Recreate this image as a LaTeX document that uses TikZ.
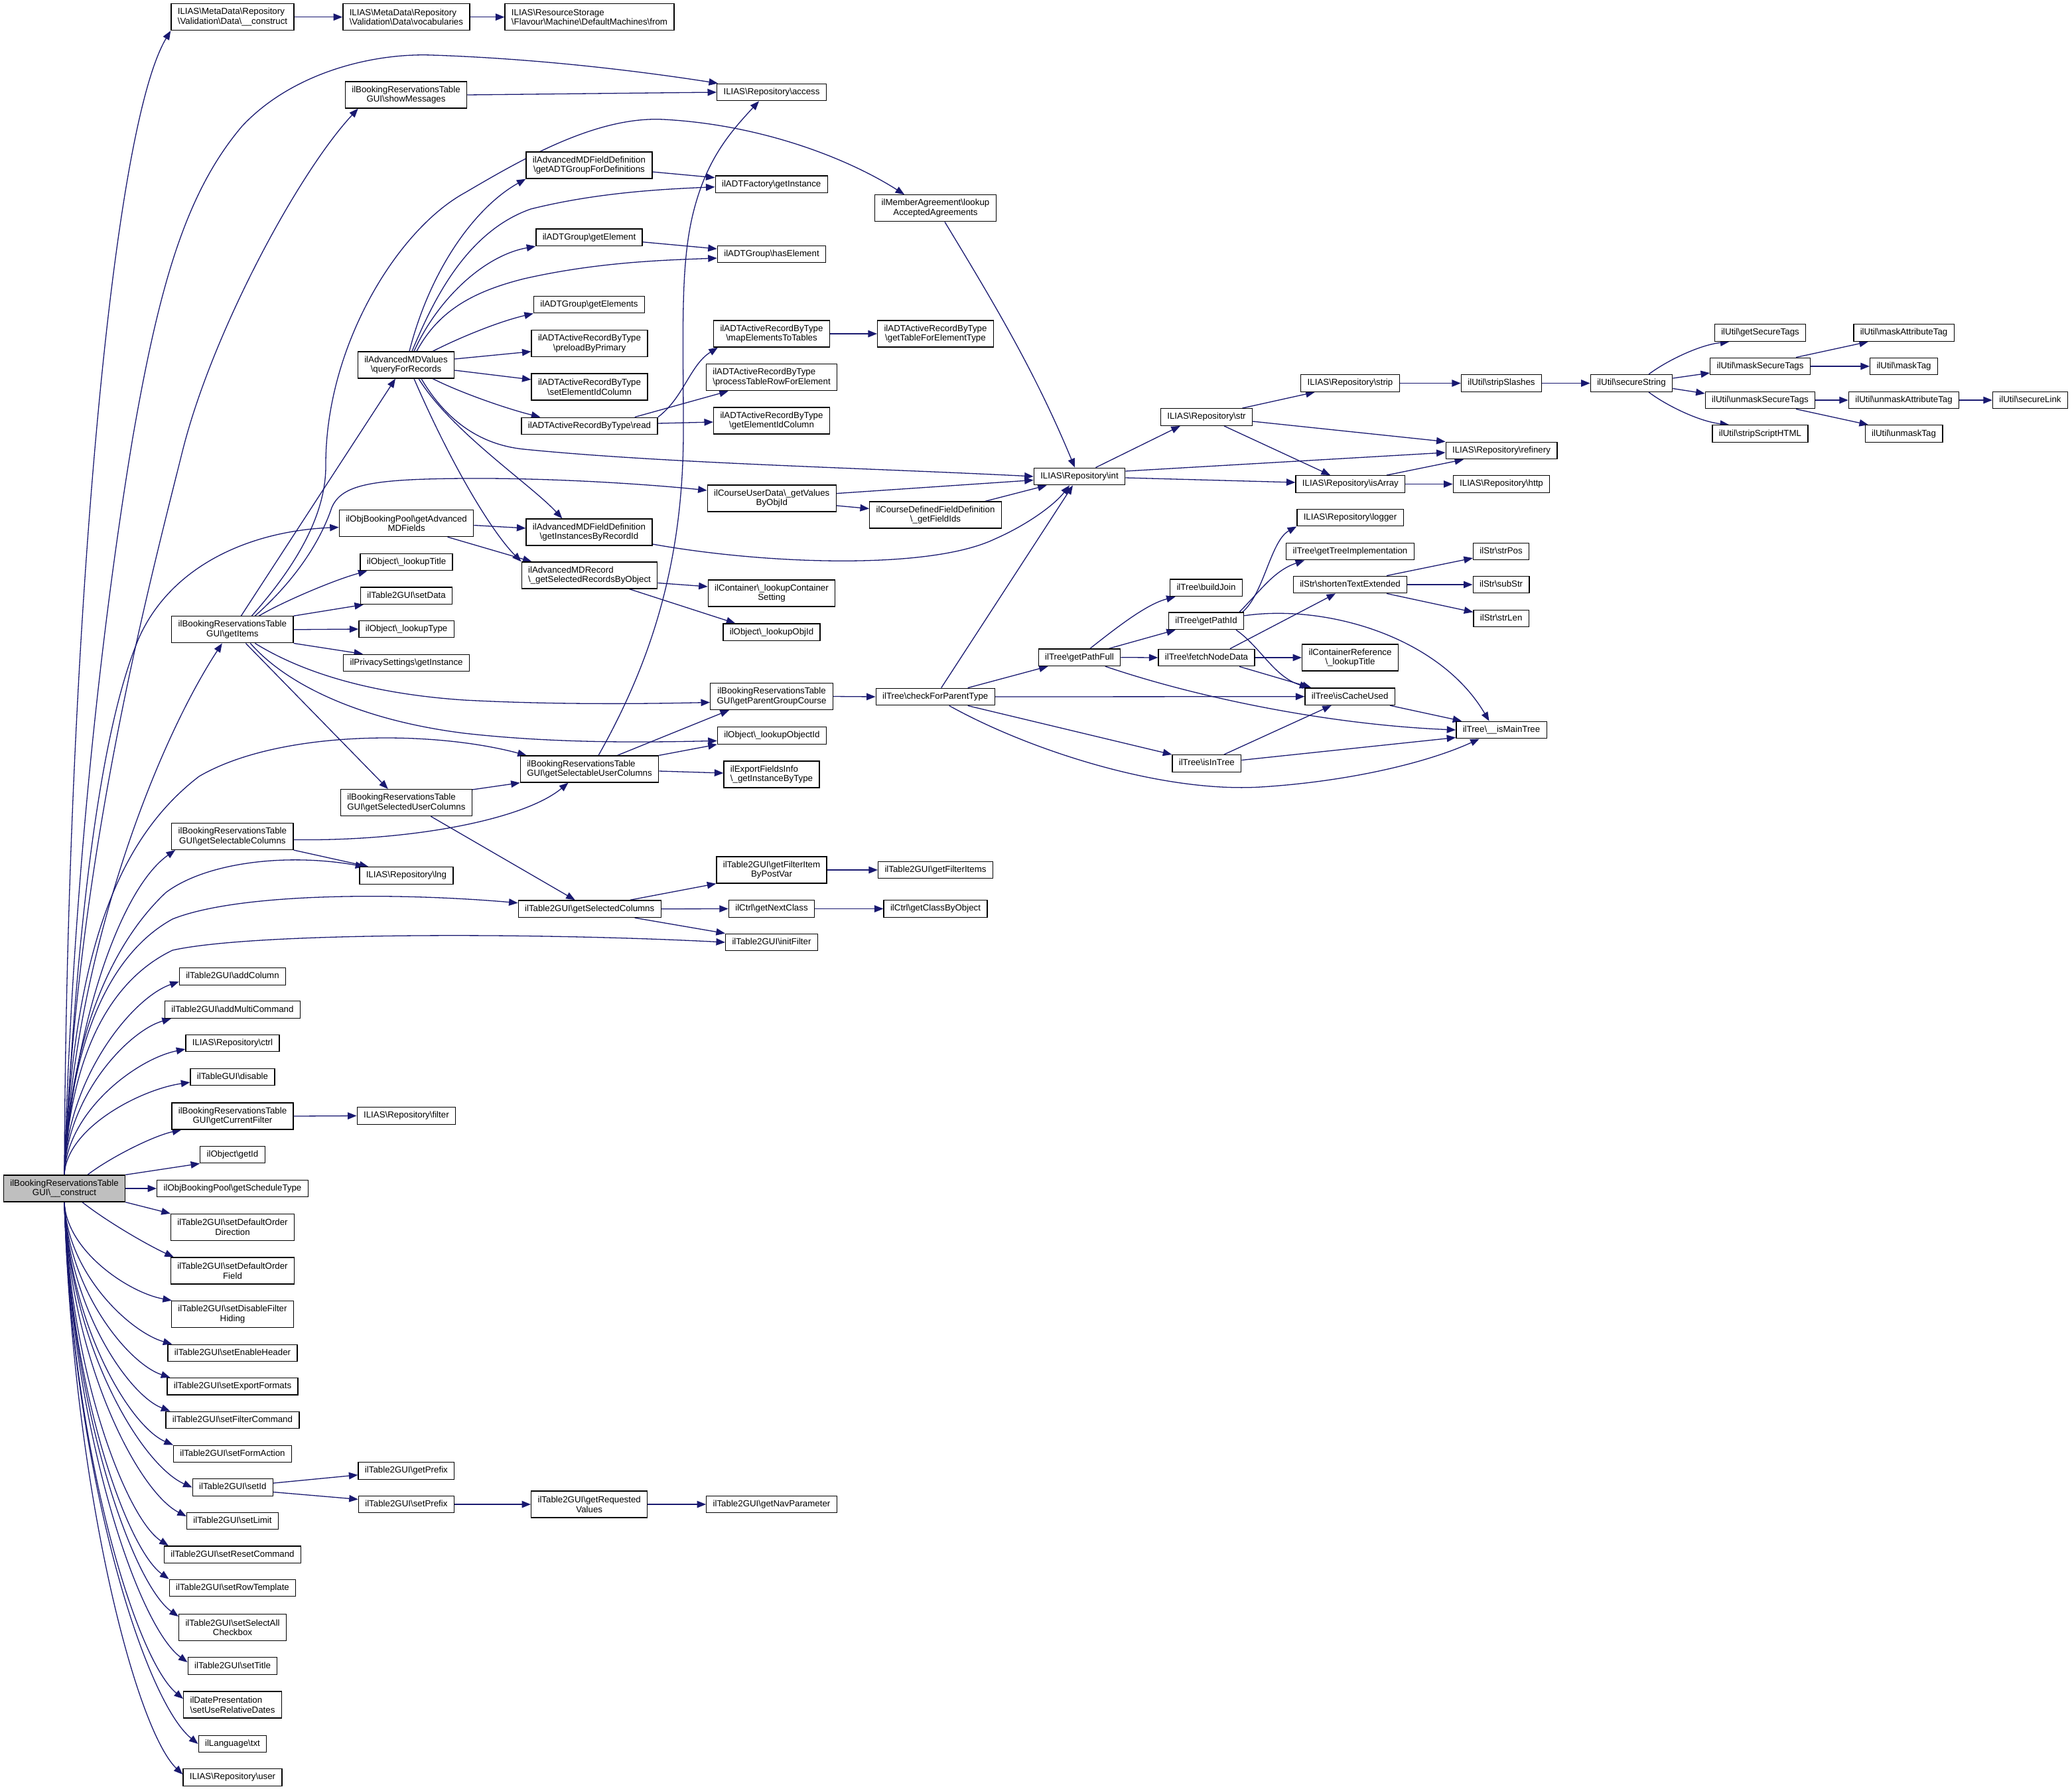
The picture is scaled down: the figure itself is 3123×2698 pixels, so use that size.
\documentclass[tikz,border=0pt]{standalone}
\usepackage{fontspec}
\setmainfont{Liberation Sans}
\usetikzlibrary{arrows.meta,calc,backgrounds}
\definecolor{edgeblue}{HTML}{191970}
\definecolor{rootgray}{HTML}{BFBFBF}
\newcommand\dxfont{\fontsize{13.3}{14.7}\selectfont}
\def\bs{\textbackslash}
\tikzset{
 fnbase/.style={draw=black, line width=1.3pt, fill=white, inner xsep=9.9pt, inner ysep=0pt, font=\dxfont, anchor=center},
 fn/.style={fnbase, minimum height=25.6pt, text height=9.6pt, text depth=2.8pt},
 fn2/.style={fnbase, minimum height=40pt, align=center},
 fn2l/.style={fnbase, minimum height=40pt, align=left},
 rootnode/.style={fn2, fill=rootgray},
 conn/.style={draw=edgeblue, line width=1.3pt, -{Triangle[length=13.5pt,width=10.5pt]}},
}
\begin{document}
\begin{tikzpicture}[x=1pt,y=-1pt]
\useasboundingbox (0,0) rectangle (3123,2698);
% ---------------- nodes ----------------
\node[rootnode] (root) at (97,1791) {ilBookingReservationsTable\\GUI\bs\_\_construct};
% column 1
\node[fn2l] (md) at (350.5,25.7) {ILIAS\bs MetaData\bs Repository\\\bs Validation\bs Data\bs\_\_construct};
\node[fn2] (getItems) at (350.4,948.8) {ilBookingReservationsTable\\GUI\bs getItems};
\node[fn2] (gsc1) at (350.4,1260.4) {ilBookingReservationsTable\\GUI\bs getSelectableColumns};
\node[fn] (addColumn) at (350.5,1471.4) {ilTable2GUI\bs addColumn};
\node[fn] (addMultiCommand) at (350.5,1521.6) {ilTable2GUI\bs addMultiCommand};
\node[fn] (ctrl) at (350.5,1572) {ILIAS\bs Repository\bs ctrl};
\node[fn] (disable) at (350.5,1623) {ilTableGUI\bs disable};
\node[fn2] (gcf) at (350.5,1682) {ilBookingReservationsTable\\GUI\bs getCurrentFilter};
\node[fn] (getId) at (350.5,1740) {ilObject\bs getId};
\node[fn] (gstype) at (350.5,1791) {ilObjBookingPool\bs getScheduleType};
\node[fn2] (sdod) at (350.5,1849.4) {ilTable2GUI\bs setDefaultOrder\\Direction};
\node[fn2] (sdof) at (350.5,1915) {ilTable2GUI\bs setDefaultOrder\\Field};
\node[fn2] (sdfh) at (350.5,1980.4) {ilTable2GUI\bs setDisableFilter\\Hiding};
\node[fn] (seh) at (350.5,2039) {ilTable2GUI\bs setEnableHeader};
\node[fn] (sef) at (350.5,2089.2) {ilTable2GUI\bs setExportFormats};
\node[fn] (sfc) at (350.5,2140) {ilTable2GUI\bs setFilterCommand};
\node[fn] (sfa) at (350.5,2191) {ilTable2GUI\bs setFormAction};
\node[fn] (sid) at (350.8,2241.5) {ilTable2GUI\bs setId};
\node[fn] (slim) at (350.5,2292) {ilTable2GUI\bs setLimit};
\node[fn] (src) at (350.5,2342.7) {ilTable2GUI\bs setResetCommand};
\node[fn] (srt) at (350.5,2393) {ilTable2GUI\bs setRowTemplate};
\node[fn2] (ssac) at (350.5,2452.7) {ilTable2GUI\bs setSelectAll\\Checkbox};
\node[fn] (stitle) at (350.5,2510.6) {ilTable2GUI\bs setTitle};
\node[fn2l] (surd) at (350.5,2569) {ilDatePresentation\\\bs setUseRelativeDates};
\node[fn] (txt) at (350.5,2628) {ilLanguage\bs txt};
\node[fn] (user) at (350.5,2678.5) {ILIAS\bs Repository\bs user};
% column 2
\node[fn2l] (vocab) at (612.4,25.7) {ILIAS\bs MetaData\bs Repository\\\bs Validation\bs Data\bs vocabularies};
\node[fn2] (showMessages) at (612,143) {ilBookingReservationsTable\\GUI\bs showMessages};
\node[fn2] (qfr) at (612,550) {ilAdvancedMDValues\\\bs queryForRecords};
\node[fn2] (gamf) at (612.6,788.6) {ilObjBookingPool\bs getAdvanced\\MDFields};
\node[fn] (lt) at (612.6,847) {ilObject\bs\_lookupTitle};
\node[fn] (sd) at (612.6,897.7) {ilTable2GUI\bs setData};
\node[fn] (ltype) at (612.6,948) {ilObject\bs\_lookupType};
\node[fn] (pv) at (612.6,999) {ilPrivacySettings\bs getInstance};
\node[fn2l] (gsduc) at (612.4,1209.6) {ilBookingReservationsTable\\GUI\bs getSelectedUserColumns};
\node[fn] (lng) at (612.4,1319.4) {ILIAS\bs Repository\bs lng};
\node[fn] (filter) at (612.4,1681.5) {ILIAS\bs Repository\bs filter};
\node[fn] (gprefix) at (612.4,2216.4) {ilTable2GUI\bs getPrefix};
\node[fn] (sprefix) at (612.4,2267) {ilTable2GUI\bs setPrefix};
% column 3
\node[fn2l] (from) at (888.5,25.7) {ILIAS\bs ResourceStorage\\\bs Flavour\bs Machine\bs DefaultMachines\bs from};
\node[fn2] (gadt) at (888,249) {ilAdvancedMDFieldDefinition\\\bs getADTGroupForDefinitions};
\node[fn] (gel) at (888,357.7) {ilADTGroup\bs getElement};
\node[fn] (gels) at (888,459) {ilADTGroup\bs getElements};
\node[fn2] (pbp) at (888.5,517.8) {ilADTActiveRecordByType\\\bs preloadByPrimary};
\node[fn2] (seic) at (888.5,583) {ilADTActiveRecordByType\\\bs setElementIdColumn};
\node[fn] (read) at (888.5,642) {ilADTActiveRecordByType\bs read};
\node[fn2] (gir) at (888,802) {ilAdvancedMDFieldDefinition\\\bs getInstancesByRecordId};
\node[fn2l] (gsrbo) at (888.5,867) {ilAdvancedMDRecord\\\bs\_getSelectedRecordsByObject};
\node[fn2l] (gsuc) at (888.5,1159) {ilBookingReservationsTable\\GUI\bs getSelectableUserColumns};
\node[fn] (gsc) at (888.7,1369.7) {ilTable2GUI\bs getSelectedColumns};
\node[fn2] (grv) at (888.2,2267) {ilTable2GUI\bs getRequested\\Values};
% column 4
\node[fn] (access) at (1163,139) {ILIAS\bs Repository\bs access};
\node[fn] (adtf) at (1162.7,277.7) {ilADTFactory\bs getInstance};
\node[fn] (hel) at (1163,383) {ilADTGroup\bs hasElement};
\node[fn2] (mett) at (1163,503) {ilADTActiveRecordByType\\\bs mapElementsToTables};
\node[fn2l] (ptrfe) at (1163,568.7) {ilADTActiveRecordByType\\\bs processTableRowForElement};
\node[fn2] (geic) at (1163,634) {ilADTActiveRecordByType\\\bs getElementIdColumn};
\node[fn2] (gv) at (1163.3,751) {ilCourseUserData\bs\_getValues\\ByObjId};
\node[fn2] (lcs) at (1163,894) {ilContainer\bs\_lookupContainer\\Setting};
\node[fn] (loi) at (1163,952.7) {ilObject\bs\_lookupObjId};
\node[fn2] (gpgc) at (1163,1049.5) {ilBookingReservationsTable\\GUI\bs getParentGroupCourse};
\node[fn] (loid) at (1163.4,1108.4) {ilObject\bs\_lookupObjectId};
\node[fn2l] (ef) at (1163,1167) {ilExportFieldsInfo\\\bs\_getInstanceByType};
\node[fn2] (gfibp) at (1163,1311) {ilTable2GUI\bs getFilterItem\\ByPostVar};
\node[fn] (gnc) at (1163,1369.5) {ilCtrl\bs getNextClass};
\node[fn] (ifilter) at (1163,1420) {ilTable2GUI\bs initFilter};
\node[fn] (gnp) at (1163,2267) {ilTable2GUI\bs getNavParameter};
% column 5
\node[fn2] (la) at (1410,313.8) {ilMemberAgreement\bs lookup\\AcceptedAgreements};
\node[fn2] (gtfet) at (1410,503) {ilADTActiveRecordByType\\\bs getTableForElementType};
\node[fn2] (gfi) at (1410,776) {ilCourseDefinedFieldDefinition\\\bs\_getFieldIds};
\node[fn] (cfp) at (1409.7,1050) {ilTree\bs checkForParentType};
\node[fn] (gfis) at (1410,1311) {ilTable2GUI\bs getFilterItems};
\node[fn] (gcbo) at (1410,1369.5) {ilCtrl\bs getClassByObject};
% column 6
\node[fn] (int) at (1627,718) {ILIAS\bs Repository\bs int};
\node[fn] (gpf) at (1627,990.7) {ilTree\bs getPathFull};
% column 7
\node[fn] (str) at (1818.5,628.5) {ILIAS\bs Repository\bs str};
\node[fn] (bj) at (1818,885.8) {ilTree\bs buildJoin};
\node[fn] (gpi) at (1818,935.8) {ilTree\bs getPathId};
\node[fn] (fnd) at (1818.5,991) {ilTree\bs fetchNodeData};
\node[fn] (iit) at (1818.8,1150.5) {ilTree\bs isInTree};
% column 8
\node[fn] (strip) at (2035,577.5) {ILIAS\bs Repository\bs strip};
\node[fn] (ia) at (2035.4,729.5) {ILIAS\bs Repository\bs isArray};
\node[fn] (lg) at (2035,780) {ILIAS\bs Repository\bs logger};
\node[fn] (gti) at (2035,831) {ilTree\bs getTreeImplementation};
\node[fn] (ste) at (2035,881) {ilStr\bs shortenTextExtended};
\node[fn2] (crt) at (2035,991) {ilContainerReference\\\bs\_lookupTitle};
\node[fn] (icu) at (2034.7,1049.7) {ilTree\bs isCacheUsed};
% column 9
\node[fn] (sls) at (2263,577.5) {ilUtil\bs stripSlashes};
\node[fn] (ref) at (2263,679) {ILIAS\bs Repository\bs refinery};
\node[fn] (http) at (2263,729.5) {ILIAS\bs Repository\bs http};
\node[fn] (sp) at (2262.6,831) {ilStr\bs strPos};
\node[fn] (ssub) at (2262.6,881) {ilStr\bs subStr};
\node[fn] (sl) at (2262.6,932) {ilStr\bs strLen};
\node[fn] (imt) at (2263,1100) {ilTree\bs\_\_isMainTree};
% columns 10-13
\node[fn] (ss) at (2459,577.5) {ilUtil\bs secureString};
\node[fn] (gst) at (2653,501.5) {ilUtil\bs getSecureTags};
\node[fn] (mst) at (2653,552) {ilUtil\bs maskSecureTags};
\node[fn] (ust) at (2653,603) {ilUtil\bs unmaskSecureTags};
\node[fn] (ssh) at (2653,653.6) {ilUtil\bs stripScriptHTML};
\node[fn] (mat) at (2869.5,501.5) {ilUtil\bs maskAttributeTag};
\node[fn] (mtag) at (2869.5,552) {ilUtil\bs maskTag};
\node[fn] (uat) at (2869.5,603) {ilUtil\bs unmaskAttributeTag};
\node[fn] (umt) at (2869.5,653.6) {ilUtil\bs unmaskTag};
\node[fn] (sln) at (3060,603) {ilUtil\bs secureLink};
% ---------------- connectors ----------------
\begin{pgfonlayer}{background}
\fill[white] (0,0) rectangle (3123,2698);
% top row
\draw[conn] (md.east) -- (vocab.west);
\draw[conn] (vocab.east) -- (from.west);
\draw[conn] (showMessages.east) -- (access.west);
% root fan, upwards
\draw[conn] (root.north) .. controls (100,1000) and (165,200) .. (md.south west);
\draw[conn] (root.north) .. controls (115,1300) and (220,900) .. (275,680) .. controls (320,500) and (450,260) .. ($(showMessages.south west)+(20,0)$);
\draw[conn] (root.north) .. controls (110,1300) and (160,900) .. (200,660) .. controls (240,430) and (280,290) .. (365,190) .. controls (440,110) and (560,80) .. (650,83) .. controls (800,88) and (950,105) .. ($(access.north west)+(2,0)$);
\draw[conn] (root.north) .. controls (115,1400) and (150,1100) .. (210,960) .. controls (260,850) and (380,800) .. ($(gamf.west)+(0,6)$);
\draw[conn] (root.north) .. controls (110,1450) and (230,1130) .. ($(getItems.south)+(-15.6,0)$);
\draw[conn] (root.north) .. controls (110,1450) and (170,1270) .. (300,1170) .. controls (420,1100) and (650,1100) .. ($(gsuc.north west)+(10,0)$);
\draw[conn] (root.north) .. controls (110,1550) and (180,1340) .. ($(gsc1.south west)+(6,0)$);
\draw[conn] (root.north) .. controls (105,1560) and (170,1420) .. (250,1345) .. controls (310,1300) and (430,1285) .. ($(lng.north west)+(8,0)$);
\draw[conn] (root.north) .. controls (105,1580) and (160,1440) .. (260,1385) .. controls (360,1345) and (600,1345) .. ($(gsc.west)+(0,-9)$);
\draw[conn] (root.north) .. controls (105,1600) and (160,1480) .. (260,1432) .. controls (380,1405) and (800,1405) .. (ifilter.west);
\draw[conn] (root.north) .. controls (100,1625) and (200,1503) .. ($(addColumn.west)+(0,8)$);
\draw[conn] (root.north) .. controls (100,1652) and (194,1553) .. ($(addMultiCommand.south west)+(10,0)$);
\draw[conn] (root.north) .. controls (100,1676) and (205,1596) .. ($(ctrl.west)+(0,9)$);
\draw[conn] (root.north) .. controls (100,1700) and (211,1642) .. ($(disable.west)+(0,8)$);
\draw[conn] ($(root.north)+(35,0)$) .. controls (165,1745) and (230,1712) .. ($(gcf.south west)+(15,0)$);
\draw[conn] (root.north east) -- (getId.south west);
\draw[conn] (root.east) -- (gstype.west);
% root fan, downwards
\draw[conn] (root.south east) -- (sdod.north west);
\draw[conn] ($(root.south)+(27,0)$) .. controls (160,1840) and (220,1875) .. ($(sdof.north west)+(5,0)$);
\draw[conn] (root.south) .. controls (100,1885) and (194,1948) .. ($(sdfh.north west)+(1,0)$);
\draw[conn] (root.south) .. controls (101,1918) and (195,2007) .. ($(seh.north west)+(7,0)$);
\draw[conn] (root.south) .. controls (102,1943) and (193,2055) .. ($(sef.north west)+(5,0)$);
\draw[conn] (root.south) .. controls (103,1969) and (193,2102) .. ($(sfc.north west)+(7,0)$);
\draw[conn] (root.south) .. controls (104,1995) and (195,2149) .. (sfa.north west);
\draw[conn] (root.south) .. controls (105,2026) and (212,2207) .. (sid.west);
\draw[conn] (root.south) .. controls (105,2048) and (207,2247) .. ($(slim.west)+(0,-7)$);
\draw[conn] (root.south) .. controls (106,2071) and (191,2289) .. ($(src.north west)+(7,0)$);
\draw[conn] (root.south) .. controls (106,2095) and (191,2334) .. (srt.north west);
\draw[conn] (root.south) .. controls (107,2124) and (200,2387) .. ($(ssac.north west)+(0,4)$);
\draw[conn] (root.south) .. controls (108,2158) and (208,2450) .. ($(stitle.west)+(0,-5.6)$);
\draw[conn] (root.south) .. controls (108,2185) and (204,2500) .. ($(surd.west)+(0,-9)$);
\draw[conn] (root.south) .. controls (109,2220) and (218,2563) .. (txt.west);
\draw[conn] (root.south) .. controls (110,2242) and (204,2605) .. ($(user.west)+(0,-4.5)$);
% getItems
\draw[conn] ($(getItems.north)+(13,0)$) -- ($(qfr.south)+(-16,0)$);
\draw[conn] ($(getItems.north)+(29,0)$) .. controls (440,860) and (492,780) .. (491,700) .. controls (491,520) and (600,345) .. (701.5,290) .. controls (790,238) and (900,175) .. (1000,180) .. controls (1150,188) and (1280,240) .. ($(la.north west)+(45,0)$);
\draw[conn] ($(getItems.north)+(34,0)$) .. controls (450,870) and (485,810) .. (500,765) .. controls (515,730) and (560,722) .. (700,721) .. controls (850,720) and (1000,732) .. ($(gv.west)+(0,-12)$);
\draw[conn] ($(getItems.north)+(40,0)$) .. controls (420,910) and (500,875) .. ($(lt.south west)+(11,0)$);
\draw[conn] (getItems.north east) -- ($(sd.south west)+(5,0)$);
\draw[conn] (getItems.east) -- (ltype.west);
\draw[conn] (getItems.south east) -- ($(pv.north west)+(30,0)$);
\draw[conn] ($(getItems.south)+(20,0)$) -- ($(gsduc.north)+(-27.6,0)$);
\draw[conn] ($(getItems.south)+(34,0)$) .. controls (450,1010) and (550,1045) .. (700,1055) .. controls (850,1063) and (1000,1060) .. ($(gpgc.west)+(0,9)$);
\draw[conn] ($(getItems.south)+(27,0)$) .. controls (430,1030) and (540,1085) .. (700,1105) .. controls (850,1122) and (1000,1118) .. ($(loid.west)+(0,8)$);
% queryForRecords
\draw[conn] ($(qfr.north)+(5,0)$) .. controls (650,400) and (720,310) .. (gadt.south west);
\draw[conn] ($(qfr.north)+(9,0)$) .. controls (650,460) and (700,350) .. (800,315) .. controls (900,290) and (1000,285) .. ($(adtf.west)+(0,4)$);
\draw[conn] ($(qfr.north)+(12,0)$) .. controls (660,450) and (730,385) .. (gel.south west);
\draw[conn] ($(qfr.north)+(16,0)$) .. controls (660,470) and (710,440) .. (790,420) .. controls (900,395) and (1000,392) .. ($(hel.west)+(0,6)$);
\draw[conn] ($(qfr.north east)+(-33,0)$) .. controls (690,510) and (750,485) .. (gels.south west);
\draw[conn] ($(qfr.east)+(0,-9)$) -- ($(pbp.west)+(0,12)$);
\draw[conn] ($(qfr.east)+(0,8)$) -- ($(seic.west)+(0,-11)$);
\draw[conn] ($(qfr.south east)+(-33,0)$) .. controls (690,590) and (760,615) .. ($(read.north west)+(29,0)$);
\draw[conn] ($(qfr.south)+(23,0)$) .. controls (670,630) and (720,670) .. (790,677) .. controls (1000,698) and (1300,705) .. (int.west);
\draw[conn] ($(qfr.south)+(19,0)$) .. controls (680,650) and (800,730) .. ($(gir.north)+(-40.6,0)$);
\draw[conn] ($(qfr.south)+(12,0)$) .. controls (680,700) and (740,800) .. (gsrbo.north west);
% getAdvancedMDFields
\draw[conn] ($(gamf.east)+(0,3)$) -- ($(gir.west)+(0,-6)$);
\draw[conn] ($(gamf.south)+(62,0)$) -- ($(gsrbo.north west)+(16,0)$);
% ADT group
\draw[conn] ($(gadt.east)+(0,10)$) -- ($(adtf.west)+(0,-10)$);
\draw[conn] ($(gel.east)+(0,7)$) -- ($(hel.west)+(0,-8)$);
\draw[conn] (read.north east) .. controls (1030,600) and (1040,550) .. ($(mett.south west)+(7,0)$);
\draw[conn] ($(read.north east)+(-35,0)$) -- ($(ptrfe.south west)+(34,0)$);
\draw[conn] ($(read.east)+(0,-4)$) -- ($(geic.west)+(0,2)$);
\draw[conn] (mett.east) -- (gtfet.west);
% to int
\draw[conn] ($(la.south)+(14,0)$) .. controls (1500,460) and (1560,560) .. ($(int.north)+(-7,0)$);
\draw[conn] ($(gv.east)+(0,-7.4)$) -- ($(int.west)+(0,5.5)$);
\draw[conn] ($(gv.east)+(0,11)$) -- ($(gfi.west)+(0,-9.5)$);
\draw[conn] ($(gfi.north)+(75,0)$) -- ($(int.south west)+(20,0)$);
\draw[conn] ($(gir.east)+(0,18)$) .. controls (1150,850) and (1400,860) .. (1500,812) .. controls (1550,790) and (1590,760) .. ($(int.south)+(-15,0)$);
% selected records
\draw[conn] ($(gsrbo.east)+(0,11.5)$) -- ($(lcs.west)+(0,-10)$);
\draw[conn] ($(gsrbo.south)+(60,0)$) -- ($(loi.north west)+(19,0)$);
% selectable user columns
\draw[conn] ($(gsuc.north)+(13.5,0)$) .. controls (980,1000) and (1030,850) .. (1030,650) .. controls (1030,500) and (1025,400) .. (1045,320) .. controls (1065,240) and (1100,200) .. ($(access.south)+(-19,0)$);
\draw[conn] ($(gsuc.north)+(42,0)$) -- ($(gpgc.south west)+(29,0)$);
\draw[conn] (gsuc.north east) -- (loid.south west);
\draw[conn] ($(gsuc.east)+(0,3)$) -- ($(ef.west)+(0,-2)$);
\draw[conn] ($(gsduc.north east)+(0,1)$) -- (gsuc.south west);
\draw[conn] ($(gsduc.south)+(37,0)$) -- ($(gsc.north)+(-22,0)$);
\draw[conn] ($(gsc1.east)+(0,5)$) .. controls (620,1268) and (790,1235) .. ($(gsuc.south)+(-32,0)$);
\draw[conn] (gsc1.south east) -- ($(lng.north west)+(14,0)$);
% selected columns
\draw[conn] ($(gsc.north)+(61,0)$) -- (gfibp.south west);
\draw[conn] (gsc.east) -- (gnc.west);
\draw[conn] ($(gsc.south)+(68,0)$) -- (ifilter.north west);
\draw[conn] (gfibp.east) -- (gfis.west);
\draw[conn] (gnc.east) -- (gcbo.west);
% lower left
\draw[conn] (gcf.east) -- (filter.west);
\draw[conn] ($(sid.east)+(0,-6.5)$) -- ($(gprefix.west)+(0,6.3)$);
\draw[conn] ($(sid.east)+(0,7)$) -- ($(sprefix.west)+(0,-7.6)$);
\draw[conn] (sprefix.east) -- (grv.west);
\draw[conn] (grv.east) -- (gnp.west);
% checkForParentType
\draw[conn] (gpgc.east) -- (cfp.west);
\draw[conn] ($(cfp.north)+(9,0)$) -- ($(int.south)+(-10,0)$);
\draw[conn] ($(cfp.north)+(49,0)$) -- ($(gpf.south west)+(15,0)$);
\draw[conn] (cfp.east) -- (icu.west);
\draw[conn] ($(cfp.south)+(49,0)$) -- (iit.north west);
\draw[conn] ($(cfp.south)+(21,0)$) .. controls (1550,1130) and (1750,1195) .. (1900,1186) .. controls (2030,1178) and (2150,1150) .. ($(imt.south west)+(35.5,0)$);
% getPathFull
\draw[conn] ($(gpf.north)+(16,0)$) .. controls (1690,940) and (1730,910) .. ($(bj.south west)+(8.6,0)$);
\draw[conn] ($(gpf.north)+(44.6,0)$) -- ($(gpi.south west)+(11,0)$);
\draw[conn] (gpf.east) -- (fnd.west);
\draw[conn] ($(gpf.south)+(38.8,0)$) .. controls (1800,1050) and (2000,1092) .. (imt.west);
% getPathId
\draw[conn] ($(gpi.north east)+(-2.6,0)$) .. controls (1905,895) and (1915,815) .. (lg.south west);
\draw[conn] ($(gpi.north)+(50,0)$) .. controls (1900,890) and (1920,860) .. ($(gti.south west)+(28,0)$);
\draw[conn] ($(gpi.east)+(0,-8)$) .. controls (2000,910) and (2170,960) .. ($(imt.north)+(-18.5,0)$);
\draw[conn] ($(gpi.south)+(45,0)$) .. controls (1900,975) and (1920,1020) .. ($(icu.north west)+(6,0)$);
% fetchNodeData
\draw[conn] (fnd.east) -- (crt.west);
\draw[conn] ($(fnd.south)+(49.5,0)$) -- ($(icu.north west)+(10,0)$);
\draw[conn] ($(fnd.north)+(35.5,0)$) -- ($(ste.south)+(-22,0)$);
% isInTree, isCacheUsed
\draw[conn] ($(iit.north)+(26,0)$) -- ($(icu.south)+(-28,0)$);
\draw[conn] ($(iit.east)+(0,-5)$) -- ($(imt.south west)+(0,-2)$);
\draw[conn] ($(icu.south east)+(-8,0)$) -- ($(imt.north west)+(9,0)$);
% shortenTextExtended
\draw[conn] ($(ste.north)+(55,0)$) -- ($(sp.west)+(0,10)$);
\draw[conn] (ste.east) -- (ssub.west);
\draw[conn] ($(ste.south)+(55,0)$) -- ($(sl.west)+(0,-9.6)$);
% int, str
\draw[conn] ($(int.north)+(24.5,0)$) -- ($(str.south west)+(30,0)$);
\draw[conn] ($(int.east)+(0,-8)$) -- ($(ref.west)+(0,3)$);
\draw[conn] ($(int.east)+(0,2)$) -- ($(ia.west)+(0,-2.5)$);
\draw[conn] ($(str.north)+(54,0)$) -- ($(strip.south west)+(21.5,0)$);
\draw[conn] ($(str.east)+(0,6.5)$) -- (ref.north west);
\draw[conn] ($(str.south)+(26.5,0)$) -- ($(ia.north west)+(52.6,0)$);
\draw[conn] ($(ia.north)+(54.6,0)$) -- ($(ref.south west)+(27.5,0)$);
\draw[conn] (ia.east) -- (http.west);
\draw[conn] (strip.east) -- (sls.west);
\draw[conn] (sls.east) -- (ss.west);
% secureString
\draw[conn] ($(ss.north)+(26,0)$) .. controls (2510,545) and (2560,520) .. ($(gst.south west)+(22.7,0)$);
\draw[conn] ($(ss.east)+(0,-7.5)$) -- ($(mst.west)+(0,10)$);
\draw[conn] ($(ss.east)+(0,8)$) -- ($(ust.west)+(0,-10)$);
\draw[conn] ($(ss.south)+(26,0)$) .. controls (2510,610) and (2560,635) .. ($(ssh.north west)+(25.7,0)$);
\draw[conn] ($(mst.north)+(54,0)$) -- ($(mat.south west)+(22.7,0)$);
\draw[conn] (mst.east) -- (mtag.west);
\draw[conn] (ust.east) -- (uat.west);
\draw[conn] (uat.east) -- (sln.west);
\draw[conn] ($(ust.south)+(54,0)$) -- ($(umt.north west)+(5.4,0)$);
\end{pgfonlayer}
\end{tikzpicture}
\end{document}
